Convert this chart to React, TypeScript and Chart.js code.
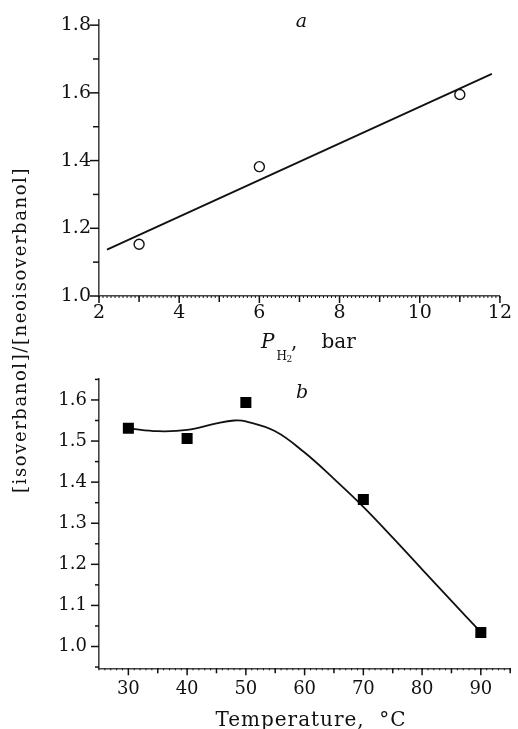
import React, { useEffect, useRef } from 'react';
import { Chart, registerables } from 'chart.js';

Chart.register(...registerables);

// ---------- Panel a: ratio vs hydrogen pressure ----------
const pressureBar = [3, 6, 11];
const ratioVsPressure = [1.153, 1.382, 1.595];
const fitPressure = [2.2, 11.8];
const fitRatioVsPressure = [1.137, 1.656];
const pressureTicks = [2, 4, 6, 8, 10, 12];
const pressureMinorTicks = [3, 5, 7, 9, 11];
const ratioTicksA = [1.0, 1.2, 1.4, 1.6, 1.8];
const ratioMinorTicksA = [1.1, 1.3, 1.5, 1.7];

// ---------- Panel b: ratio vs temperature ----------
const temperatureC = [30, 40, 50, 70, 90];
const ratioVsTemperature = [1.531, 1.506, 1.594, 1.358, 1.034];
const curveTemperature = [30, 35, 40, 45, 48, 50, 55, 60, 65, 70, 75, 80, 85, 90];
const curveRatio = [1.531, 1.524, 1.527, 1.543, 1.55, 1.548, 1.524, 1.472, 1.408, 1.34, 1.265, 1.188, 1.111, 1.035];
const temperatureTicks = [30, 40, 50, 60, 70, 80, 90];
const temperatureMinorTicks = [35, 45, 55, 65, 75, 85, 95];
const ratioTicksB = [1.0, 1.1, 1.2, 1.3, 1.4, 1.5, 1.6];
const ratioMinorTicksB = [0.95, 1.05, 1.15, 1.25, 1.35, 1.45, 1.55, 1.65];

const yTitle = '[isoverbanol]/[neoisoverbanol]';
const xTitleB = 'Temperature,  \u00B0C';

const FONT = "'DejaVu Serif', 'Liberation Serif', serif";
const INK = '#111';
const AXIS = '#444';
const W = 518;
const H = 729;

function range(start: number, end: number, step: number) {
  const out: number[] = [];
  const n = Math.round((end - start) / step);
  for (let i = 0; i <= n; i++) out.push(+(start + i * step).toFixed(4));
  return out;
}

type TickSet = { values: number[]; len: number; width: number };

function drawAxisTicks(chart: any, xs: TickSet[], ys: TickSet[]) {
  const ctx = chart.ctx;
  const area = chart.chartArea;
  const sx = chart.scales.x;
  const sy = chart.scales.y;
  ctx.save();
  ctx.strokeStyle = INK;
  xs.forEach((set) => {
    ctx.lineWidth = set.width;
    set.values.forEach((v) => {
      const px = sx.getPixelForValue(v);
      if (px < area.left - 0.5 || px > area.right + 0.5) return;
      ctx.beginPath();
      ctx.moveTo(px, area.bottom);
      ctx.lineTo(px, area.bottom + set.len);
      ctx.stroke();
    });
  });
  ys.forEach((set) => {
    ctx.lineWidth = set.width;
    set.values.forEach((v) => {
      const py = sy.getPixelForValue(v);
      if (py < area.top - 0.5 || py > area.bottom + 0.5) return;
      ctx.beginPath();
      ctx.moveTo(area.left - set.len, py);
      ctx.lineTo(area.left, py);
      ctx.stroke();
    });
  });
  ctx.restore();
}

function fitText(ctx: CanvasRenderingContext2D, text: string, width: number) {
  (ctx as any).letterSpacing = '0px';
  const w0 = ctx.measureText(text).width;
  (ctx as any).letterSpacing = `${(width - w0) / text.length}px`;
}

function axisOptions(opts: {
  min: number; max: number; ticks: number[]; fmt: (v: number) => string;
  size: number; isX: boolean; padding: number; fontSize: number;
}) {
  return {
    type: 'linear',
    min: opts.min,
    max: opts.max,
    afterBuildTicks: (scale: any) => {
      scale.ticks = opts.ticks.map((v) => ({ value: v }));
    },
    afterFit: (scale: any) => {
      if (opts.isX) scale.height = opts.size;
      else scale.width = opts.size;
    },
    grid: { display: false, drawTicks: false },
    border: { display: true, color: AXIS, width: 1.6 },
    ticks: {
      autoSkip: false,
      maxRotation: 0,
      padding: opts.padding,
      color: INK,
      font: { family: FONT, size: opts.fontSize },
      callback: (v: any) => opts.fmt(Number(v)),
    },
  };
}

function PanelA() {
  const ref = useRef<HTMLCanvasElement | null>(null);
  useEffect(() => {
    if (!ref.current) return;
    const area = { left: 99, right: 507.5, top: 15, bottom: 296 };
    const xAxisH = 40;
    const plugin = {
      id: 'panelA',
      afterDraw(chart: any) {
        drawAxisTicks(
          chart,
          [
            { values: range(2, 12, 0.1), len: 2, width: 1 },
            { values: pressureMinorTicks, len: 6, width: 1.5 },
            { values: pressureTicks, len: 7, width: 1.5 },
          ],
          [
            { values: ratioMinorTicksA, len: 6, width: 1.5 },
            { values: ratioTicksA, len: 9, width: 1.5 },
          ]
        );
        const ctx: CanvasRenderingContext2D = chart.ctx;
        ctx.save();
        ctx.fillStyle = INK;
        ctx.textAlign = 'left';
        ctx.textBaseline = 'alphabetic';
        // x-axis title: P_H2, bar
        ctx.font = `italic 20px ${FONT}`;
        ctx.fillText('P', 261, 348);
        ctx.font = `12px ${FONT}`;
        ctx.fillText('H', 276.5, 360);
        ctx.font = `9px ${FONT}`;
        ctx.fillText('2', 286.5, 362);
        ctx.font = `20px ${FONT}`;
        ctx.fillText(',', 291, 348);
        ctx.fillText('bar', 321.5, 348);
        // panel letter
        ctx.font = `italic 19px ${FONT}`;
        ctx.textAlign = 'center';
        ctx.fillText('a', 301.5, 27);
        // shared y-axis title
        ctx.font = `18px ${FONT}`;
        fitText(ctx, yTitle, 326);
        ctx.translate(21, 330);
        ctx.rotate(-Math.PI / 2);
        ctx.textAlign = 'center';
        ctx.textBaseline = 'middle';
        ctx.fillText(yTitle, 0, 0);
        ctx.restore();
      },
    };
    const chart = new Chart(ref.current, {
      type: 'scatter',
      data: {
        datasets: [
          {
            data: pressureBar.map((x, i) => ({ x, y: ratioVsPressure[i] })),
            pointStyle: 'circle',
            pointRadius: 5,
            pointBorderWidth: 1.4,
            pointBorderColor: INK,
            pointBackgroundColor: '#fff',
            showLine: false,
          },
          {
            data: fitPressure.map((x, i) => ({ x, y: fitRatioVsPressure[i] })),
            showLine: true,
            borderColor: INK,
            borderWidth: 1.8,
            pointRadius: 0,
          },
        ],
      } as any,
      options: {
        animation: false,
        responsive: false,
        maintainAspectRatio: false,
        events: [],
        layout: {
          padding: { left: 0, right: W - area.right, top: area.top, bottom: H - area.bottom - xAxisH },
        },
        plugins: { legend: { display: false }, tooltip: { enabled: false } },
        scales: {
          x: axisOptions({ min: 2, max: 12, ticks: pressureTicks, fmt: (v) => String(v), size: xAxisH, isX: true, padding: 6, fontSize: 19 }),
          y: axisOptions({ min: 1.0, max: 1.817, ticks: ratioTicksA, fmt: (v) => v.toFixed(1), size: area.left, isX: false, padding: 8, fontSize: 19 }),
        } as any,
      },
      plugins: [plugin],
    } as any);
    return () => chart.destroy();
  }, []);
  return <canvas ref={ref} width={W} height={H} style={{ position: 'absolute', left: 0, top: 0, display: 'block' }} />;
}

function PanelB() {
  const ref = useRef<HTMLCanvasElement | null>(null);
  useEffect(() => {
    if (!ref.current) return;
    const area = { left: 99, right: 515, top: 379, bottom: 668.3 };
    const xAxisH = 40;
    const plugin = {
      id: 'panelB',
      afterDraw(chart: any) {
        drawAxisTicks(
          chart,
          [
            { values: range(25, 95, 1), len: 2, width: 1 },
            { values: temperatureMinorTicks, len: 5, width: 1.5 },
            { values: temperatureTicks, len: 7, width: 1.5 },
          ],
          [
            { values: ratioMinorTicksB, len: 4, width: 1.5 },
            { values: ratioTicksB, len: 8, width: 1.5 },
          ]
        );
        const ctx: CanvasRenderingContext2D = chart.ctx;
        ctx.save();
        ctx.fillStyle = INK;
        ctx.textBaseline = 'alphabetic';
        ctx.textAlign = 'center';
        ctx.font = `italic 19px ${FONT}`;
        ctx.fillText('b', 302, 398);
        ctx.font = `20px ${FONT}`;
        fitText(ctx, xTitleB, 191);
        ctx.fillText(xTitleB, 311, 726);
        ctx.restore();
      },
    };
    const chart = new Chart(ref.current, {
      type: 'scatter',
      data: {
        datasets: [
          {
            data: temperatureC.map((x, i) => ({ x, y: ratioVsTemperature[i] })),
            pointStyle: 'rect',
            pointRadius: 7.8,
            pointBorderWidth: 0,
            pointBackgroundColor: '#000',
            pointBorderColor: '#000',
            showLine: false,
          },
          {
            data: curveTemperature.map((x, i) => ({ x, y: curveRatio[i] })),
            showLine: true,
            tension: 0.4,
            borderColor: INK,
            borderWidth: 1.8,
            pointRadius: 0,
          },
        ],
      } as any,
      options: {
        animation: false,
        responsive: false,
        maintainAspectRatio: false,
        events: [],
        layout: {
          padding: { left: 0, right: W - area.right, top: area.top, bottom: H - area.bottom - xAxisH },
        },
        plugins: { legend: { display: false }, tooltip: { enabled: false } },
        scales: {
          x: axisOptions({ min: 25, max: 95, ticks: temperatureTicks, fmt: (v) => String(v), size: xAxisH, isX: true, padding: 10, fontSize: 18 }),
          y: axisOptions({ min: 0.947, max: 1.651, ticks: ratioTicksB, fmt: (v) => v.toFixed(1), size: area.left, isX: false, padding: 12, fontSize: 18 }),
        } as any,
      },
      plugins: [plugin],
    } as any);
    return () => chart.destroy();
  }, []);
  return <canvas ref={ref} width={W} height={H} style={{ position: 'absolute', left: 0, top: 0, display: 'block' }} />;
}

export default function App() {
  return (
    <div style={{ position: 'absolute', left: 0, top: 0, width: W, height: H, background: '#fff', overflow: 'hidden' }}>
      <PanelA />
      <PanelB />
    </div>
  );
}
